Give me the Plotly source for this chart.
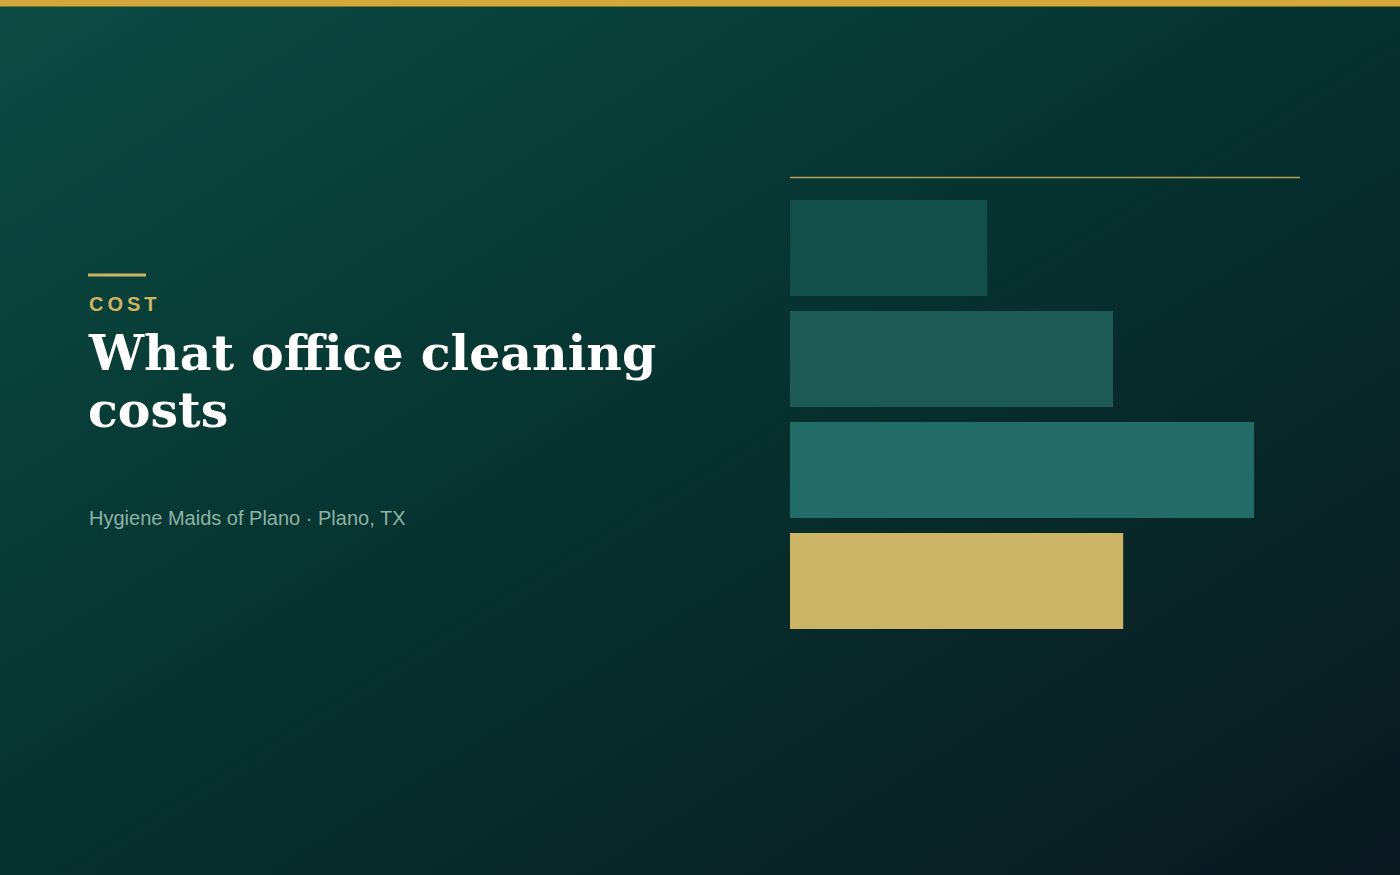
import base64
import plotly.graph_objects as go

# ---- data ----
categories = ["Tier 1", "Tier 2", "Tier 3", "Tier 4"]
values = [58, 95, 136.5, 98]
bar_colors = ["#134E4A", "#1D5A56", "#226B66", "#CDB567"]

eyebrow = "COST"
title_l1 = "What office cleaning"
title_l2 = "costs"
subtitle = "Hygiene Maids of Plano · Plano, TX"

W, H = 1400, 875

# background gradient ("to bottom right"), as svg data uri
_t = (2 * W * H) / (W * W + H * H)
gx2, gy2 = _t * H, _t * W
svg = f'''<svg xmlns="http://www.w3.org/2000/svg" width="{W}" height="{H}" viewBox="0 0 {W} {H}" preserveAspectRatio="none">
<defs><linearGradient id="g" gradientUnits="userSpaceOnUse" x1="0" y1="0" x2="{gx2:.2f}" y2="{gy2:.2f}">
<stop offset="0" stop-color="#0C4B43"/>
<stop offset="0.5" stop-color="#06312E"/>
<stop offset="1" stop-color="#0A1820"/>
</linearGradient></defs>
<rect width="{W}" height="{H}" fill="url(#g)"/></svg>'''
src = "data:image/svg+xml;base64," + base64.b64encode(svg.encode()).decode()

fig = go.Figure()
fig.add_trace(go.Bar(
    y=categories, x=values, orientation="h",
    marker=dict(color=bar_colors, line=dict(width=0)),
    hoverinfo="skip",
))

def px_x(x):
    return x / W

def px_y(y):
    return 1 - y / H

fig.update_layout(
    width=W, height=H,
    margin=dict(l=0, r=0, t=0, b=0),
    paper_bgcolor="#06312E",
    plot_bgcolor="rgba(0,0,0,0)",
    showlegend=False,
    bargap=15 / 111,
    xaxis=dict(domain=[px_x(790), px_x(1300)], range=[0, 150], visible=False, fixedrange=True),
    yaxis=dict(domain=[px_y(636.5), px_y(192.5)], autorange="reversed", visible=False, fixedrange=True),
    images=[dict(source=src, xref="paper", yref="paper", x=0, y=1, sizex=1, sizey=1,
                 sizing="stretch", xanchor="left", yanchor="top", layer="below")],
    shapes=[
        dict(type="rect", xref="paper", yref="paper", x0=0, x1=1, y0=px_y(6.5), y1=1,
             fillcolor="#D4A73A", line=dict(width=0)),
        dict(type="line", xref="paper", yref="paper", x0=px_x(790), x1=px_x(1300),
             y0=px_y(177.5), y1=px_y(177.5), line=dict(color="#B3A266", width=1.6)),
        dict(type="line", xref="paper", yref="paper", x0=px_x(88), x1=px_x(146),
             y0=px_y(275), y1=px_y(275), line=dict(color="#CDB567", width=3)),
    ],
    annotations=[
        dict(text="C\u2009O\u2009S\u2009T", xref="paper", yref="paper", x=px_x(87), y=px_y(304),
             xanchor="left", yanchor="middle", showarrow=False,
             font=dict(family="Liberation Sans, Arial, sans-serif", size=20, color="#CDB567", weight="bold")),
        dict(text=title_l1, xref="paper", yref="paper", x=px_x(86), y=px_y(353),
             xanchor="left", yanchor="middle", showarrow=False,
             font=dict(family="DejaVu Serif, serif", size=49, color="#FFFFFF", weight="bold")),
        dict(text=title_l2, xref="paper", yref="paper", x=px_x(86), y=px_y(410),
             xanchor="left", yanchor="middle", showarrow=False,
             font=dict(family="DejaVu Serif, serif", size=49, color="#FFFFFF", weight="bold")),
        dict(text=subtitle, xref="paper", yref="paper", x=px_x(87), y=px_y(518),
             xanchor="left", yanchor="middle", showarrow=False,
             font=dict(family="Liberation Sans, Arial, sans-serif", size=20, color="#8DB3A8")),
    ],
)

fig.write_html(
    "out.html",
    config={"displayModeBar": False},
    post_script="document.body.style.margin='0';document.body.style.overflow='hidden';",
)
